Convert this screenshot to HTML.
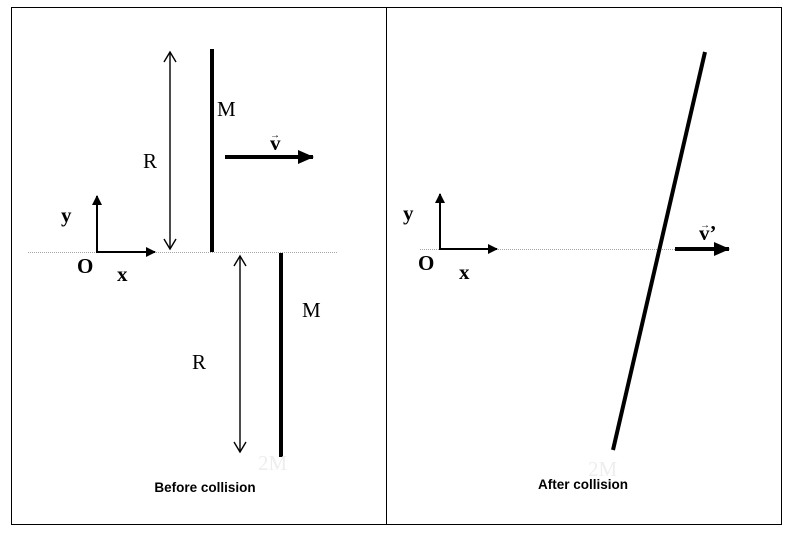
<!DOCTYPE html>
<html><head><style>
body{margin:0;background:#fff}
svg{display:block}
.t{font-family:"Liberation Serif",serif;font-size:21px;fill:#000}
.b{font-weight:bold}
.s{font-family:"Liberation Sans",sans-serif;font-size:13.5px;font-weight:bold;fill:#000}
</style></head><body>
<svg width="800" height="537" viewBox="0 0 800 537">
<defs>
<marker id="ah" markerWidth="10" markerHeight="10" refX="9" refY="5" orient="auto" markerUnits="userSpaceOnUse"><path d="M0,0 L10,5 L0,10Z" fill="#000"/></marker>
<marker id="big" markerWidth="16" markerHeight="14" refX="15" refY="7" orient="auto" markerUnits="userSpaceOnUse"><path d="M0,0 L16,7 L0,14Z" fill="#000"/></marker>
</defs>
<rect x="11.5" y="7.5" width="770" height="517" fill="none" stroke="#000" stroke-width="1"/>
<line x1="386.5" y1="7" x2="386.5" y2="525" stroke="#000"/>
<!-- left -->
<line x1="28" y1="252.5" x2="337" y2="252.5" stroke="#888" stroke-width="0.8" stroke-dasharray="1,1"/>
<line x1="97" y1="252" x2="97" y2="196" stroke="#000" stroke-width="2" marker-end="url(#ah)"/>
<line x1="96" y1="252" x2="155" y2="252" stroke="#000" stroke-width="2" marker-end="url(#ah)"/>
<text class="t b" x="61" y="222">y</text>
<text class="t b" x="77" y="273">O</text>
<text class="t b" x="117" y="281">x</text>
<line x1="170" y1="52" x2="170" y2="249" stroke="#000" stroke-width="1.4"/>
<path d="M164,62 L170,52 L176,62 M164,239 L170,249 L176,239" fill="none" stroke="#000" stroke-width="1.4"/>
<line x1="212" y1="49" x2="212" y2="252" stroke="#000" stroke-width="4"/>
<text class="t" x="217" y="116">M</text>
<text class="t" x="143" y="168">R</text>
<line x1="225" y1="157" x2="313" y2="157" stroke="#000" stroke-width="4" marker-end="url(#big)"/>
<text class="t b" x="270" y="150">v</text>
<text class="t" x="270" y="138" style="font-size:10px">→</text>
<line x1="240" y1="256" x2="240" y2="452" stroke="#000" stroke-width="1.4"/>
<path d="M234,266 L240,256 L246,266 M234,442 L240,452 L246,442" fill="none" stroke="#000" stroke-width="1.4"/>
<line x1="281" y1="253" x2="281" y2="457" stroke="#000" stroke-width="4"/>
<text class="t" x="302" y="317">M</text>
<text class="t" x="192" y="369">R</text>
<text class="t" x="258" y="470" style="fill:#eee">2M</text>
<text class="s" x="205" y="492" text-anchor="middle">Before collision</text>
<!-- right -->
<line x1="420" y1="249.5" x2="730" y2="249.5" stroke="#888" stroke-width="0.8" stroke-dasharray="1,1"/>
<line x1="440" y1="250" x2="440" y2="194" stroke="#000" stroke-width="2" marker-end="url(#ah)"/>
<line x1="439" y1="249" x2="497" y2="249" stroke="#000" stroke-width="2" marker-end="url(#ah)"/>
<text class="t b" x="403" y="220">y</text>
<text class="t b" x="418" y="270">O</text>
<text class="t b" x="459" y="279">x</text>
<line x1="705" y1="52" x2="613" y2="450" stroke="#000" stroke-width="4"/>
<line x1="675" y1="249" x2="729" y2="249" stroke="#000" stroke-width="4" marker-end="url(#big)"/>
<text class="t b" x="699" y="240">v’</text>
<text class="t" x="700" y="228" style="font-size:10px">→</text>
<text class="t" x="588" y="476" style="fill:#eee">2M</text>
<text class="s" x="583" y="489" text-anchor="middle">After collision</text>
</svg>
</body></html>
